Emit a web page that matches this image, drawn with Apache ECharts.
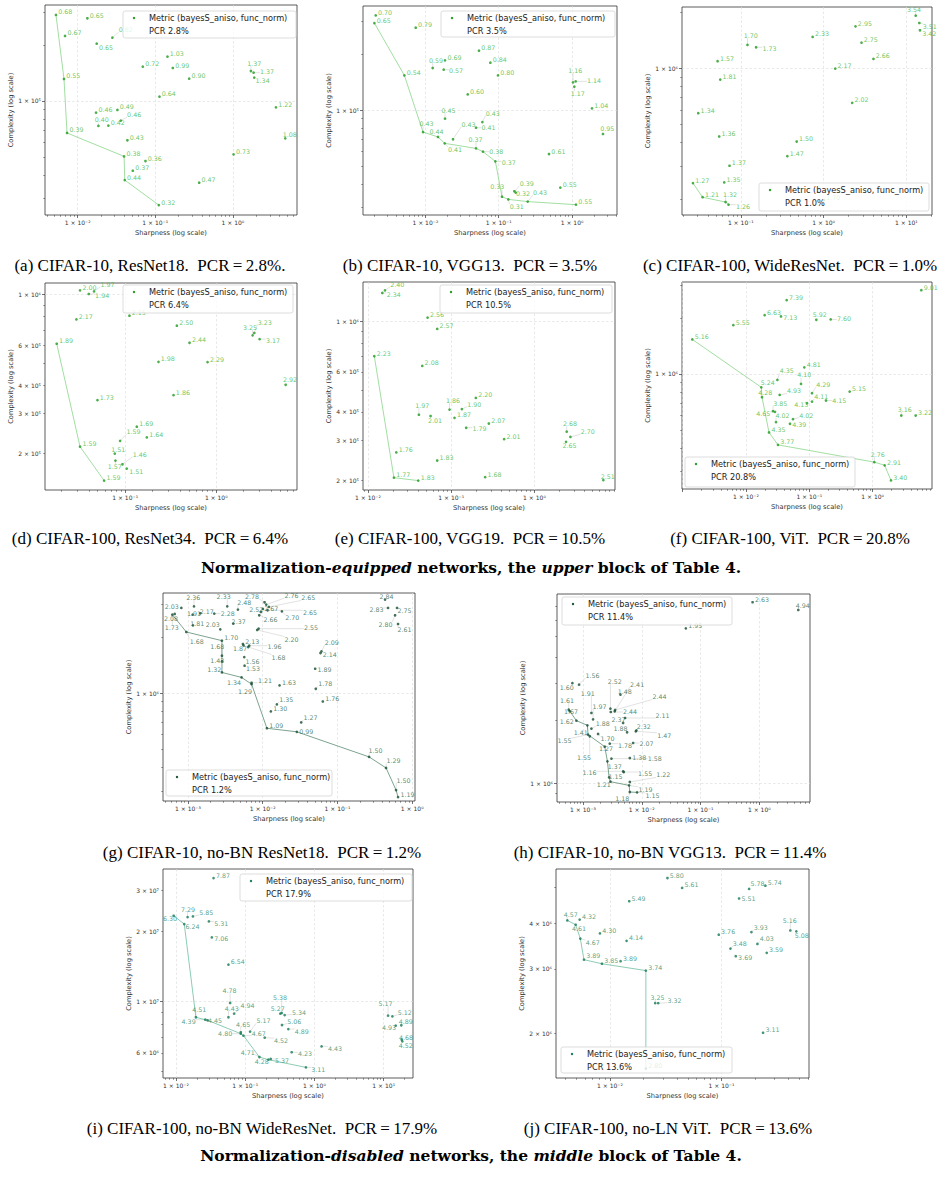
<!DOCTYPE html>
<html>
<head>
<meta charset="utf-8">
<script src="https://cdn.jsdelivr.net/npm/echarts@6/dist/echarts.min.js"></script>
<style>
  html, body { margin: 0; padding: 0; background: #fff; }
  #fig { width: 942px; height: 1186px; }
</style>
</head>
<body>
<div id="fig"></div>
<script>
// ---- data: sharpness (x), complexity (y), point labels, Pareto-front indices ----
const aSharp = [0.00525, 0.01332, 0.00687, 0.0280, 0.01758, 0.1436, 0.0690, 0.1682, 1.707, 1.848, 1.885, 0.00666, 0.2733, 0.1132, 3.587, 0.01724, 0.0325, 0.0359, 0.01848, 0.02487, 0.00729, 4.734, 0.0437, 1.020, 0.0396, 0.0747, 0.0513, 0.0404, 0.3678, 0.1110];
const aComplex = [2.89e5, 2.773e5, 2.23e5, 2.184e5, 2.028e5, 1.728e5, 1.527e5, 1.502e5, 1.447e5, 1.418e5, 1.334e5, 1.312e5, 1.317e5, 1.055e5, 9.25e4, 8.66e4, 8.95e4, 7.85e4, 7.35e4, 7.38e4, 6.74e4, 6.31e4, 6.16e4, 5.18e4, 5.05e4, 4.77e4, 4.23e4, 3.77e4, 3.65e4, 2.77e4];
const aLabel = ['0.68','0.65','0.67','0.82','0.65','1.03','0.72','0.99','1.37','1.37','1.34','0.55','0.90','0.64','1.22','0.46','0.49','0.46','0.40','0.42','0.39','1.08','0.43','0.73','0.38','0.36','0.37','0.44','0.47','0.32'];
const aFront = [0, 11, 20, 24, 27, 29];

const bSharp = [0.002102, 0.002016, 0.00738, 0.0539, 0.01854, 0.0770, 0.01259, 0.01778, 0.0979, 1.032, 1.122, 1.076, 0.00517, 0.0378, 1.874, 0.01854, 0.0599, 0.00929, 0.0491, 0.01488, 0.02384, 2.647, 0.01835, 0.0491, 0.0611, 0.486, 0.0901, 0.1110, 0.1636, 0.1705, 0.1354, 0.2486, 0.6934, 1.134];
const bComplex = [3.214e5, 2.925e5, 2.761e5, 2.079e5, 1.846e5, 1.793e5, 1.679e5, 1.645e5, 1.533e5, 1.407e5, 1.424e5, 1.334e5, 1.533e5, 1.213e5, 1.021e5, 8.99e4, 8.62e4, 7.62e4, 8.04e4, 7.17e4, 6.97e4, 7.44e4, 6.63e4, 6.23e4, 5.98e4, 5.81e4, 5.31e4, 3.43e4, 3.67e4, 3.61e4, 3.32e4, 3.23e4, 3.84e4, 3.11e4];
const bLabel = ['0.70','0.65','0.79','0.87','0.69','0.84','0.59','0.57','0.80','1.16','1.14','1.17','0.54','0.60','1.04','0.45','0.43','0.43','0.41','0.44','0.43','0.95','0.41','0.37','0.38','0.61','0.37','0.33','0.39','0.32','0.31','0.43','0.55','0.55'];
const bFront = [1, 12, 17, 19, 22, 23, 24, 26, 27, 30, 31, 33];

const cSharp = [12.96, 14.34, 14.61, 2.430, 0.737, 0.1203, 0.1530, 2.870, 4.004, 0.0524, 1.382, 0.0564, 2.215, 0.0306, 0.0548, 0.4729, 0.3649, 0.0730, 0.0264, 0.0630, 0.0345, 0.0654, 0.0710, 1.009];
const cComplex = [1.923e6, 1.756e6, 1.605e6, 1.686e6, 1.478e6, 1.339e6, 1.301e6, 1.378e6, 1.127e6, 1.095e6, 1.0e6, 8.73e5, 6.55e5, 5.76e5, 4.32e5, 4.06e5, 3.39e5, 3.01e5, 2.43e5, 2.45e5, 2.04e5, 1.923e5, 1.861e5, 1.971e5];
const cLabel = ['3.54','3.51','3.42','2.95','2.33','1.70','1.73','2.75','2.66','1.57','2.17','1.81','2.02','1.34','1.36','1.50','1.47','1.37','1.27','1.35','1.21','1.32','1.26','1.70'];
const cFront = [18, 20, 21, 22];

const dSharp = [0.0320, 0.0456, 0.0399, 0.0292, 0.1116, 0.3697, 2.507, 2.616, 2.994, 0.01774, 0.5093, 0.2325, 0.8031, 5.78, 0.3398, 0.0497, 0.1343, 0.0881, 0.1730, 0.0320, 0.0770, 0.0935, 0.0783, 0.1043, 0.0588];
const dComplex = [1.045e6, 1.034e6, 1.007e6, 7.78e5, 8.08e5, 7.30e5, 6.62e5, 6.78e5, 6.37e5, 6.08e5, 6.14e5, 5.06e5, 5.05e5, 4.01e5, 3.61e5, 3.43e5, 2.62e5, 2.27e5, 2.35e5, 2.14e5, 1.995e5, 1.790e5, 1.858e5, 1.713e5, 1.517e5];
const dLabel = ['2.00','1.97','1.94','2.17','2.15','2.50','3.25','3.23','3.17','1.89','2.44','1.98','2.29','2.92','1.86','1.73','1.69','1.59','1.64','1.59','1.51','1.46','1.57','1.51','1.59'];
const dFront = [9, 19, 24];

const eSharp = [0.01600, 0.01486, 0.0520, 0.0679, 0.01191, 0.0449, 0.1977, 0.0955, 0.1343, 0.0409, 0.0565, 0.1096, 0.2831, 0.1514, 2.443, 2.704, 2.399, 0.4325, 0.0219, 0.0679, 0.0205, 0.0402, 0.2559, 6.73];
const eComplex = [1.367e6, 1.331e6, 1.038e6, 9.26e5, 7.03e5, 6.37e5, 4.61e5, 4.10e5, 4.12e5, 3.89e5, 3.84e5, 3.77e5, 3.56e5, 3.41e5, 3.28e5, 3.11e5, 2.96e5, 3.04e5, 2.66e5, 2.45e5, 2.06e5, 2.00e5, 2.07e5, 2.01e5];
const eLabel = ['2.40','2.34','2.56','2.57','2.23','2.08','2.20','1.86','1.90','1.97','2.01','1.87','2.07','1.79','2.68','2.70','2.65','2.01','1.76','1.83','1.77','1.83','1.68','2.51'];
const eFront = [4, 20, 21];

const fSharp = [5.87, 0.0439, 0.01971, 0.0357, 0.1290, 0.2172, 0.00631, 0.00142, 0.0834, 0.0313, 0.0739, 0.01746, 0.1102, 0.4334, 0.0340, 0.01789, 0.1102, 0.1833, 0.0919, 0.0267, 0.0287, 2.836, 4.774, 0.0298, 0.0552, 0.0495, 0.0231, 0.0320, 1.062, 1.547, 1.948];
const fComplex = [2.818e6, 2.491e6, 2.071e6, 2.037e6, 1.955e6, 1.963e6, 1.830e6, 1.533e6, 1.086e6, 9.29e5, 8.84e5, 8.48e5, 7.88e5, 8.04e5, 7.72e5, 7.50e5, 7.11e5, 7.20e5, 6.97e5, 6.31e5, 6.26e5, 5.98e5, 5.98e5, 5.51e5, 5.72e5, 5.40e5, 4.85e5, 4.16e5, 3.36e5, 3.23e5, 2.68e5];
const fLabel = ['9.01','7.39','6.63','7.13','5.92','7.60','5.55','5.16','4.81','4.35','4.10','5.24','4.29','5.15','4.93','4.28','4.11','4.15','4.13','3.85','4.65','3.16','3.22','4.02','4.02','4.39','4.35','3.77','2.76','2.91','3.40'];
const fFront = [7, 11, 15, 26, 27, 28, 29, 30];

const gSharp = [0.000815, 0.001203, 0.003354, 0.01058, 0.004658, 0.01114, 0.01209, 0.00945, 0.01005, 0.01804, 0.0116, 0.00898, 0.00880, 0.00844, 0.000664, 0.001155, 0.001462, 0.002248, 0.000617, 0.001166, 0.002705, 0.004035, 0.002846, 0.000950, 0.00543, 0.0066, 0.00554, 0.0064, 0.002846, 0.0611, 0.0593, 0.002846, 0.00566, 0.00572, 0.0503, 0.002846, 0.00521, 0.00709, 0.00709, 0.01679, 0.0513, 0.01546, 0.0637, 0.01285, 0.0327, 0.01137, 0.0286, 0.4335, 0.4753, 0.627, 0.590, 0.6467, 0.265, 0.4470, 0.608, 0.6467];
const gComplex = [2.854e6, 2.912e6, 2.912e6, 3.06e6, 2.796e6, 2.973e6, 2.889e6, 2.716e6, 2.818e6, 2.738e6, 2.773e6, 2.607e6, 2.211e6, 2.175e6, 2.650e6, 2.628e6, 2.672e6, 2.661e6, 2.628e6, 2.304e6, 2.193e6, 2.352e6, 1.907e6, 2.122e6, 1.830e6, 1.793e6, 1.800e6, 1.764e6, 1.585e6, 1.672e6, 1.638e6, 1.478e6, 1.559e6, 1.401e6, 1.350e6, 1.290e6, 1.213e6, 1.136e6, 1.117e6, 1.099e6, 1.055e6, 8.70e5, 9.02e5, 7.98e5, 6.97e5, 6.49e5, 6.21e5, 3.162e6, 2.854e6, 2.854e6, 2.607e6, 2.342e6, 4.56e5, 3.98e5, 3.03e5, 2.78e5];
const gLabel = ['2.03','2.36','2.33','2.78','2.48','2.76','2.65','2.52','2.67','2.70','2.65','2.66','2.55','2.20','2.08','1.91','2.17','2.28','1.73','1.81','2.03','2.37','1.70','1.68','2.13','1.96','1.87','1.68','1.68','2.09','2.14','1.43','1.56','1.53','1.89','1.32','1.34','1.21','1.29','1.63','1.78','1.35','1.76','1.30','1.27','1.09','0.99','2.84','2.83','2.75','2.80','2.61','1.50','1.29','1.50','1.19'];
const gFront = [18, 23, 22, 28, 31, 35, 36, 38, 45, 46, 52, 53, 54, 55];

const hSharp = [0.770, 4.62, 0.0562, 0.000855, 0.000658, 0.001387, 0.002923, 0.003466, 0.004329, 0.003512, 0.002962, 0.000570, 0.000593, 0.001481, 0.000770, 0.001387, 0.004806, 0.005198, 0.001186, 0.00811, 0.00562, 0.00790, 0.001217, 0.001802, 0.002848, 0.00712, 0.002340, 0.001299, 0.00625, 0.003041, 0.002599, 0.004806, 0.004934, 0.00625, 0.002774, 0.002923, 0.00608, 0.00625, 0.00833];
const hComplex = [7.28e6, 6.69e6, 5.47e6, 2.95e6, 3.00e6, 2.162e6, 2.268e6, 2.203e6, 2.644e6, 2.235e6, 2.186e6, 2.243e6, 2.203e6, 2.018e6, 1.988e6, 1.821e6, 1.938e6, 2.047e6, 1.889e6, 1.788e6, 1.750e6, 1.769e6, 1.705e6, 1.718e6, 1.545e6, 1.556e6, 1.495e6, 1.675e6, 1.320e6, 1.311e6, 1.273e6, 1.141e6, 1.132e6, 1.015e6, 1.068e6, 1.018e6, 9.78e5, 9.09e5, 9.06e5];
const hLabel = ['2.63','4.94','1.95','1.56','1.60','1.91','2.52','2.41','1.48','2.44','2.44','1.61','1.67','1.97','1.62','1.88','2.37','2.11','1.41','2.32','1.88','1.47','1.55','1.70','1.78','2.07','1.27','1.55','1.38','1.58','1.37','1.16','1.55','1.22','1.15','1.21','1.19','1.18','1.15'];
const hFront = [11, 14, 18, 22, 26, 30, 34, 35, 36, 37, 38];

const iSharp = [0.0349, 0.01472, 0.01757, 0.00926, 0.01318, 0.0299, 0.0330, 0.0573, 0.0606, 0.0573, 0.0692, 0.01941, 0.0265, 0.0286, 0.3362, 0.3217, 0.3713, 0.340, 0.4195, 0.0863, 0.1177, 0.0863, 0.0943, 0.1913, 0.1603, 0.2161, 0.2335, 0.4686, 1.267, 0.754, 11.56, 13.35, 17.98, 14.91, 18.19, 18.60];
const iComplex = [3.39e7, 2.304e7, 2.319e7, 2.335e7, 2.150e7, 2.207e7, 1.884e7, 1.438e7, 9.84e6, 8.54e6, 8.85e6, 8.54e6, 8.34e6, 8.29e6, 8.91e6, 8.85e6, 8.73e6, 7.91e6, 7.60e6, 7.36e6, 7.41e6, 7.26e6, 7.12e6, 6.98e6, 5.76e6, 5.61e6, 5.65e6, 6.04e6, 6.40e6, 5.20e6, 8.68e6, 8.62e6, 7.89e6, 7.86e6, 6.84e6, 6.73e6];
const iLabel = ['7.87','7.29','5.85','6.30','6.24','5.31','7.06','6.54','4.78','4.43','4.94','4.51','4.39','4.45','5.38','5.27','5.34','5.06','4.89','4.65','5.17','4.80','4.67','4.52','4.71','4.28','5.37','4.23','4.43','3.11','5.17','5.12','4.89','4.93','4.68','4.52'];
const iFront = [3, 4, 11, 12, 13, 21, 22, 24, 25, 29];

const jSharp = [0.0328, 0.0444, 0.01490, 0.1770, 0.2477, 0.1439, 0.004148, 0.005353, 0.004927, 0.00814, 0.005426, 0.01410, 0.005852, 0.00848, 0.01246, 0.0210, 0.02547, 0.0271, 0.0210, 0.0946, 0.1857, 0.4148, 0.4694, 0.2101, 0.1204, 0.2547, 0.1344, 0.2361];
const jComplex = [5.31e6, 4.99e6, 4.59e6, 4.96e6, 5.06e6, 4.67e6, 4.07e6, 4.09e6, 3.96e6, 3.75e6, 3.63e6, 3.58e6, 3.18e6, 3.10e6, 3.15e6, 2.97e6, 2.42e6, 2.42e6, 1.605e6, 3.72e6, 3.78e6, 3.82e6, 3.80e6, 3.51e6, 3.41e6, 3.32e6, 3.25e6, 2.01e6];
const jLabel = ['5.80','5.61','5.49','5.78','5.74','5.51','4.57','4.32','4.61','4.30','4.67','4.14','3.89','3.85','3.89','3.74','3.25','3.32','2.80','3.76','3.93','5.16','5.08','4.03','3.48','3.59','3.69','3.11'];
const jFront = [6, 8, 10, 12, 13, 15, 18];

// tick labels shown on each axis
const xTicksA = [0.01, 0.1, 1], yTicksA = [1e5];
const xTicksB = [0.01, 0.1, 1], yTicksB = [1e5];
const xTicksC = [0.1, 1, 10], yTicksC = [1e6];
const xTicksD = [0.1, 1], yTicksD = [2e5, 3e5, 4e5, 6e5, 1e6];
const xTicksE = [0.01, 0.1, 1], yTicksE = [2e5, 3e5, 4e5, 6e5, 1e6];
const xTicksF = [0.01, 0.1, 1], yTicksF = [1e6];
const xTicksG = [0.001, 0.01, 0.1, 1], yTicksG = [1e6];
const xTicksH = [0.001, 0.01, 0.1, 1], yTicksH = [1e6];
const xTicksI = [0.01, 0.1, 1, 10], yTicksI = [6e6, 1e7, 2e7, 3e7];
const xTicksJ = [0.01, 0.1], yTicksJ = [2e6, 3e6, 4e6];

const pcrText = ['PCR 2.8%', 'PCR 3.5%', 'PCR 1.0%', 'PCR 6.4%', 'PCR 10.5%', 'PCR 20.8%', 'PCR 1.2%', 'PCR 11.4%', 'PCR 17.9%', 'PCR 13.6%'];
const captions = [
  '(a) CIFAR-10, ResNet18.  PCR\u2009=\u20092.8%.',
  '(b) CIFAR-10, VGG13.  PCR\u2009=\u20093.5%',
  '(c) CIFAR-100, WideResNet.  PCR\u2009=\u20091.0%',
  '(d) CIFAR-100, ResNet34.  PCR\u2009=\u20096.4%',
  '(e) CIFAR-100, VGG19.  PCR\u2009=\u200910.5%',
  '(f) CIFAR-100, ViT.  PCR\u2009=\u200920.8%',
  '(g) CIFAR-10, no-BN ResNet18.  PCR\u2009=\u20091.2%',
  '(h) CIFAR-10, no-BN VGG13.  PCR\u2009=\u200911.4%',
  '(i) CIFAR-100, no-BN WideResNet.  PCR\u2009=\u200917.9%',
  '(j) CIFAR-100, no-LN ViT.  PCR\u2009=\u200913.6%'
];

// ---- label nudges (adjustText-style displacement, px) ----
const aNudge = {3:[4,-5], 4:[0,7], 8:[-6,-5], 9:[4,2], 10:[-1,6], 17:[4,-3], 18:[-6,-3], 21:[-5,-1]};
const bNudge = {6:[-6,-5], 7:[3,4], 9:[-7,-9], 10:[9,2], 11:[-6,10], 15:[-6,-5], 16:[1,-6], 17:[-6,-6], 18:[3,3], 19:[-11,-2], 20:[6,-12], 21:[-5,-2], 22:[1,9], 23:[-10,-6], 24:[4,3], 26:[4,4], 27:[-14,-7], 28:[3,-5], 29:[-2,4], 30:[-1,10], 31:[3,-6]};
const cNudge = {0:[-11,-3], 1:[1,6], 2:[0,6], 5:[-6,-6], 6:[4,4], 21:[-5,-5], 22:[5,5]};
const dNudge = {1:[4,-4], 2:[4,4], 6:[-12,-5], 7:[1,-8], 8:[4,4], 13:[-5,-2], 17:[4,-6], 20:[-6,-1], 21:[8,-7], 22:[-10,9], 23:[0,6]};
const eNudge = {0:[3,-3], 1:[2,5], 7:[-6,-6], 8:[3,-2], 9:[-6,-6], 10:[-5,7], 13:[4,4], 14:[-6,-5], 15:[8,-2], 16:[-6,7], 23:[-5,-1]};
const fNudge = {3:[0,4], 4:[-6,-2], 5:[4,2], 9:[0,-6], 10:[-6,-6], 11:[-3,-2], 12:[2,-6], 14:[5,-1], 15:[-6,-2], 16:[0,-2], 17:[4,3], 18:[-15,4], 19:[-2,-5], 20:[-21,5], 21:[-6,-3], 23:[-3,-4], 24:[4,-1], 25:[0,4], 28:[-6,-5]};
const gNudge = {0:[-19,2], 1:[-10,-6], 2:[-13,-7], 3:[-22,-3], 4:[-3,-4], 5:[16,-6], 6:[30,-6], 7:[-14,1], 8:[-1,3], 9:[1,9], 10:[33,5], 11:[2,7], 12:[43,2], 13:[25,12], 14:[-13,8], 15:[-8,2], 16:[-3,1], 17:[4,3], 18:[-10,16], 19:[-5,1], 20:[-17,-2], 21:[-4,1], 23:[1,12], 25:[16,4], 26:[-13,6], 27:[21,13], 28:[-14,-6], 29:[1,-6], 30:[0,4], 31:[-14,2], 32:[-1,7], 33:[-1,6], 34:[0,4], 35:[-17,0], 36:[-17,8], 37:[4,1], 38:[-16,10], 40:[0,-2], 41:[0,-2], 44:[0,-2], 46:[0,3], 47:[-8,0], 48:[-21,5], 49:[-2,6], 50:[-19,12], 51:[-3,9], 52:[-3,-3], 53:[-2,-4], 54:[-2,-7]};
const hNudge = {1:[-5,-1], 3:[4,-6], 4:[-15,7], 5:[-13,-17], 6:[-5,-24], 7:[13,-24], 8:[-5,0], 9:[35,-10], 10:[10,2], 11:[-11,-6], 12:[-8,3], 13:[-3,-10], 14:[-19,4], 15:[2,-2], 16:[-14,0], 17:[28,1], 18:[-16,10], 19:[-2,-1], 20:[-16,-1], 21:[19,7], 22:[-33,9], 23:[0,8], 24:[6,5], 25:[4,3], 26:[-8,5], 27:[-15,24], 28:[0,2], 29:[34,3], 30:[-2,8], 31:[-43,4], 32:[12,4], 33:[24,-4], 34:[-3,2], 35:[-16,6], 36:[7,7], 37:[-17,9], 38:[6,6]};
const iNudge = {1:[-9,-5], 2:[4,-1], 3:[-13,6], 4:[-1,5], 5:[3,5], 6:[0,4], 8:[-10,-9], 9:[-6,-6], 10:[4,-5], 11:[-6,-5], 12:[-26,5], 13:[-2,3], 14:[-11,-13], 15:[-12,-2], 16:[5,0], 17:[3,-1], 18:[4,5], 19:[-7,-5], 20:[4,-8], 21:[-25,3], 22:[6,1], 23:[7,6], 24:[-21,-2], 25:[-16,5], 26:[2,5], 27:[4,4], 28:[4,5], 29:[3,5], 30:[-12,-9], 31:[3,-1], 32:[-5,-1], 33:[-16,5], 34:[-5,1], 35:[-6,7]};
const jNudge = {3:[-1,-2], 5:[0,3], 6:[-6,-3], 8:[-6,7], 10:[3,7], 12:[0,-1], 16:[-7,-3], 17:[7,0], 20:[0,-2], 21:[-10,-7], 22:[-4,7], 23:[0,-2], 24:[0,-2], 26:[0,4]};

// ---- palettes ----
const palLight = {dot: '#1f9a1f', text: '#3db83d', line: '#8ad58a'};
const palDark = {dot: '#164f32', text: '#2b6a4c', line: '#5d8c74'};
const palTeal = {dot: '#167a55', text: '#2a8a66', line: '#6fbf9f'};

// ---- panel layout (grid box in px, axis ranges, legend box, caption anchor) ----
const panels = [
  {x: aSharp, y: aComplex, lab: aLabel, front: aFront, nudge: aNudge, xt: xTicksA, yt: yTicksA, box: [45, 5, 252, 210], xr: [0.00379, 6.70], yr: [24510, 326700], leg: [123, 11, 173, 27], cap: [150, 265], pal: palLight},
  {x: bSharp, y: bComplex, lab: bLabel, front: bFront, nudge: bNudge, xt: xTicksB, yt: yTicksB, box: [363, 6, 254, 209], xr: [0.00141, 4.11], yr: [2.738e4, 3.61e5], leg: [441, 11, 174, 26], cap: [470, 265], pal: palLight},
  {x: cSharp, y: cComplex, lab: cLabel, front: cFront, nudge: cNudge, xt: xTicksC, yt: yTicksC, box: [682, 7, 250, 208], xr: [0.01946, 20.4], yr: [1.638e5, 2.14e6], leg: [759, 183, 170, 28], cap: [790, 265], pal: palLight},
  {x: dSharp, y: dComplex, lab: dLabel, front: dFront, nudge: dNudge, xt: xTicksD, yt: yTicksD, box: [45, 283, 252, 207], xr: [0.0132, 7.70], yr: [1.379e5, 1.126e6], leg: [123, 285, 170, 28], cap: [150, 538], pal: palLight},
  {x: eSharp, y: eComplex, lab: eLabel, front: eFront, nudge: eNudge, xt: xTicksE, yt: yTicksE, box: [363, 282, 252, 208], xr: [0.00871, 9.29], yr: [1.819e5, 1.487e6], leg: [440, 285, 172, 28], cap: [470, 538], pal: palLight},
  {x: fSharp, y: fComplex, lab: fLabel, front: fFront, nudge: fNudge, xt: xTicksF, yt: yTicksF, box: [682, 282, 250, 207], xr: [0.000976, 8.65], yr: [2.41e5, 3.12e6], leg: [685, 457, 170, 30], cap: [790, 538], pal: palLight},
  {x: gSharp, y: gComplex, lab: gLabel, front: gFront, nudge: gNudge, xt: xTicksG, yt: yTicksG, box: [163, 593, 252, 208], xr: [0.000463, 1.09], yr: [2.65e5, 3.43e6], leg: [166, 770, 166, 26], cap: [262, 852], pal: palDark},
  {x: hSharp, y: hComplex, lab: hLabel, front: hFront, nudge: hNudge, xt: xTicksH, yt: yTicksH, box: [557, 594, 253, 208], xr: [0.000360, 7.31], yr: [8.15e5, 7.97e6], leg: [562, 597, 170, 28], cap: [670, 852], pal: palDark},
  {x: iSharp, y: iComplex, lab: iLabel, front: iFront, nudge: iNudge, xt: xTicksI, yt: yTicksI, box: [163, 869, 250, 209], xr: [0.0065, 26.5], yr: [4.68e6, 3.71e7], leg: [240, 874, 172, 27], cap: [262, 1128], pal: palTeal},
  {x: jSharp, y: jComplex, lab: jLabel, front: jFront, nudge: jNudge, xt: xTicksJ, yt: yTicksJ, box: [556, 869, 253, 209], xr: [0.003284, 0.6096], yr: [1.513e6, 5.62e6], leg: [561, 1047, 171, 26], cap: [668, 1128], pal: palTeal}
];

const SUP = {'-': '\u207B', '0': '\u2070', '1': '\u00B9', '2': '\u00B2', '3': '\u00B3', '4': '\u2074', '5': '\u2075', '6': '\u2076', '7': '\u2077', '8': '\u2078', '9': '\u2079'};
function sci(v) {
  const e = Math.floor(Math.log10(v) + 1e-9);
  const m = Math.round(v / Math.pow(10, e));
  return m + ' \u00D7 10' + String(e).split('').map(c => SUP[c]).join('');
}
function powers(r) {
  const out = [];
  for (let e = Math.ceil(Math.log10(r[0])); e <= Math.floor(Math.log10(r[1])); e++) out.push(Math.pow(10, e));
  return out;
}
function minors(r) {
  const out = [];
  for (let e = Math.floor(Math.log10(r[0])); e <= Math.ceil(Math.log10(r[1])); e++) {
    for (let k = 2; k <= 9; k++) {
      const v = k * Math.pow(10, e);
      if (v > r[0] && v < r[1]) out.push(v);
    }
  }
  return out;
}

const FONT = 'DejaVu Sans';
const LABEL_DY = -3;
const option = {animation: false, backgroundColor: '#fff', grid: [], xAxis: [], yAxis: [], series: [], graphic: []};

panels.forEach((p, k) => {
  option.grid.push({left: p.box[0], top: p.box[1], width: p.box[2], height: p.box[3], show: true,
    borderColor: '#333', borderWidth: 0.8, backgroundColor: 'rgba(0,0,0,0)'});

  const xi = option.xAxis.length, yi = option.yAxis.length;
  // major axes: labels, long ticks, dashed grid
  option.xAxis.push({type: 'log', gridIndex: k, position: 'bottom', min: p.xr[0], max: p.xr[1],
    name: 'Sharpness (log scale)', nameLocation: 'middle', nameGap: 14,
    nameTextStyle: {fontSize: 6.7, color: '#333', fontFamily: FONT},
    axisLine: {show: false},
    axisTick: {show: true, length: 3, customValues: powers(p.xr), lineStyle: {color: '#333', width: 0.7}},
    axisLabel: {show: true, customValues: p.xt, formatter: sci, fontSize: 6, color: '#333', margin: 4, fontFamily: FONT},
    splitLine: {show: true, lineStyle: {color: '#dadada', width: 0.6, type: [2.5, 2]}}});
  option.xAxis.push({type: 'log', gridIndex: k, position: 'bottom', min: p.xr[0], max: p.xr[1],
    axisLine: {show: false}, axisLabel: {show: false}, splitLine: {show: false},
    axisTick: {show: true, length: 1.8, customValues: minors(p.xr), lineStyle: {color: '#333', width: 0.5}}});
  option.yAxis.push({type: 'log', gridIndex: k, position: 'left', min: p.yr[0], max: p.yr[1],
    name: 'Complexity (log scale)', nameLocation: 'middle', nameGap: 31,
    nameTextStyle: {fontSize: 6.7, color: '#333', fontFamily: FONT},
    axisLine: {show: false},
    axisTick: {show: true, length: 3, customValues: powers(p.yr), lineStyle: {color: '#333', width: 0.7}},
    axisLabel: {show: true, customValues: p.yt, formatter: sci, fontSize: 6, color: '#333', margin: 4, fontFamily: FONT},
    splitLine: {show: true, lineStyle: {color: '#dadada', width: 0.6, type: [2.5, 2]}}});
  option.yAxis.push({type: 'log', gridIndex: k, position: 'left', min: p.yr[0], max: p.yr[1],
    axisLine: {show: false}, axisLabel: {show: false}, splitLine: {show: false},
    axisTick: {show: true, length: 1.8, customValues: minors(p.yr), lineStyle: {color: '#333', width: 0.5}}});

  // Pareto front
  option.series.push({type: 'line', xAxisIndex: xi, yAxisIndex: yi, silent: true, z: 2,
    data: p.front.map(i => [p.x[i], p.y[i]]), symbol: 'none',
    lineStyle: {color: p.pal.line, width: 0.8}});

  // all checkpoints with accuracy labels
  option.series.push({type: 'scatter', xAxisIndex: xi, yAxisIndex: yi, z: 3,
    symbolSize: 2.7, itemStyle: {color: p.pal.dot},
    data: p.x.map((x, i) => {
      const d = {value: [x, p.y[i]], name: p.lab[i]};
      const n = p.nudge[i];
      if (n) d.label = {offset: [n[0], n[1] + LABEL_DY]};
      return d;
    }),
    label: {show: true, position: 'right', distance: 1, offset: [0, LABEL_DY], formatter: q => q.name,
      fontSize: 6.3, fontFamily: FONT, color: p.pal.text}});

  // legend box (matplotlib style, semi-transparent)
  const [lx, ly, lw, lh] = p.leg;
  option.graphic.push({type: 'rect', z: 100, shape: {x: lx, y: ly, width: lw, height: lh, r: 2},
    style: {fill: 'rgba(255,255,255,0.8)', stroke: '#d4d4d4', lineWidth: 0.8}});
  option.graphic.push({type: 'circle', z: 101, shape: {cx: lx + 11, cy: ly + 7, r: 1.2}, style: {fill: p.pal.dot}});
  option.graphic.push({type: 'text', z: 101, style: {text: 'Metric (bayesS_aniso, func_norm)', x: lx + 26, y: ly + 7,
    fontSize: 8.2, fontFamily: FONT, fill: '#222', align: 'left', verticalAlign: 'middle'}});
  option.graphic.push({type: 'text', z: 101, style: {text: pcrText[k], x: lx + 26, y: ly + 20,
    fontSize: 8.2, fontFamily: FONT, fill: '#222', align: 'left', verticalAlign: 'middle'}});

  // sub-caption
  option.graphic.push({type: 'text', z: 101, style: {text: captions[k], x: p.cap[0], y: p.cap[1],
    fontSize: 17, fontFamily: 'Liberation Serif', fill: '#000', align: 'center', verticalAlign: 'middle'}});
});

// block headings
const headRich = {
  b: {fontSize: 15.5, fontFamily: 'DejaVu Serif', fontWeight: 'bold', fill: '#000'},
  bi: {fontSize: 15.5, fontFamily: 'DejaVu Serif', fontWeight: 'bold', fontStyle: 'italic', fill: '#000'}
};
option.graphic.push({type: 'text', z: 101, style: {
  text: '{b|Normalization-}{bi|equipped}{b| networks, the }{bi|upper}{b| block of Table 4.}',
  rich: headRich, x: 471, y: 567, align: 'center', verticalAlign: 'middle'}});
option.graphic.push({type: 'text', z: 101, style: {
  text: '{b|Normalization-}{bi|disabled}{b| networks, the }{bi|middle}{b| block of Table 4.}',
  rich: headRich, x: 471, y: 1155, align: 'center', verticalAlign: 'middle'}});

const chart = echarts.init(document.getElementById('fig'), null, {renderer: 'svg'});
chart.setOption(option);

// faint guide lines from each point to its displaced label (like adjustText arrows)
const guides = [];
panels.forEach((p, k) => {
  Object.keys(p.nudge).forEach(key => {
    const i = Number(key), n = p.nudge[i];
    const pt = chart.convertToPixel({xAxisIndex: 2 * k, yAxisIndex: 2 * k}, [p.x[i], p.y[i]]);
    const left = pt[0] + 2.2 + n[0], cy = pt[1] + LABEL_DY + n[1];
    const w = p.lab[i].length * 3.5, h = 5;
    const tx = Math.max(left, Math.min(pt[0], left + w));
    const ty = Math.max(cy - h / 2, Math.min(pt[1], cy + h / 2));
    if (Math.hypot(tx - pt[0], ty - pt[1]) > 3) {
      guides.push({type: 'line', z: 1, silent: true, shape: {x1: pt[0], y1: pt[1], x2: tx, y2: ty},
        style: {stroke: '#cfcfcf', lineWidth: 0.6}});
    }
  });
});
chart.setOption({graphic: option.graphic.concat(guides)});
</script>
</body>
</html>
